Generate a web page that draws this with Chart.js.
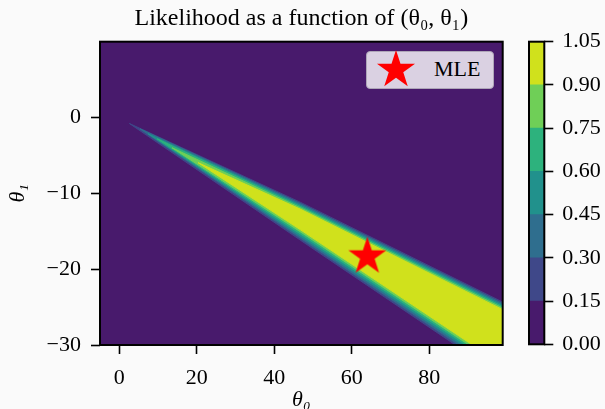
<!DOCTYPE html>
<html>
<head>
<meta charset="utf-8">
<script src="https://cdn.jsdelivr.net/npm/chart.js@4.4.1/dist/chart.umd.min.js"></script>
<style>
  html, body { margin: 0; padding: 0; background: #fafafa; }
  #wrap { position: relative; width: 605px; height: 409px; overflow: hidden; }
  #wrap canvas.chart { position: absolute; left: 0; top: 0; }
  #legend {
    position: absolute; left: 366px; top: 51px; width: 128px; height: 38px;
    box-sizing: border-box; background: #dad1e2; border: 1px solid #aea6b8; border-radius: 4px;
    font-family: 'Liberation Serif', serif; font-size: 22px; color: #000;
  }
  #legend canvas { position: absolute; left: 7px; top: -4px; }
  #legend span { position: absolute; left: 67px; top: 6px; line-height: 22px; }
</style>
</head>
<body>
<div id="wrap">
  <canvas id="main" class="chart" width="605" height="409"></canvas>
  <canvas id="cbar" class="chart" width="605" height="409"></canvas>
  <div id="legend"></div>
</div>
<script>
// axes
const xLimits = [-5, 99];
const yLimits = [-30, 10];
const xTicks = [0, 20, 40, 60, 80];
const yTicks = [-30, -20, -10, 0];

// contour levels (colour bar) and the viridis colour of each band
const levels = [0.00, 0.15, 0.30, 0.45, 0.60, 0.75, 0.90, 1.05];
const bandColors = ['#481a6c', '#3f4889', '#2f6e8e', '#21918c', '#2db27d', '#6fcf57', '#d0e11c'];

// outline of the region likelihood >= level, for levels 0.15 .. 0.90
const tipTheta0 = [2.6, 5.35, 7.4, 9.75, 13.6, 20.35];
const tipTheta1 = [-0.79, -1.49, -2.14, -2.80, -3.99, -5.96];
const midTheta0 = 46.7;
const upperMidTheta1 = [-11.16, -11.34, -11.53, -11.71, -11.89, -12.08];
const upperEndTheta1 = [-24.34, -24.54, -24.74, -24.93, -25.13, -25.34]; // at right edge
const lowerMidTheta1 = [-16.16, -15.88, -15.61, -15.33, -15.05, -14.78];
const lowerEndTheta0 = [86.8, 87.7, 88.6, 89.5, 90.3, 91.2]; // at bottom edge

// maximum likelihood estimate
const mleTheta0 = [64.05];
const mleTheta1 = [-18.33];

const serif = "'Liberation Serif', 'DejaVu Serif', serif";
const minus = v => String(v).replace('-', '\u2212');

function makeStar(r, color) {
  const c = document.createElement('canvas');
  const size = Math.ceil(2 * r + 4);
  c.width = size; c.height = size;
  const g = c.getContext('2d');
  g.fillStyle = color;
  g.beginPath();
  for (let i = 0; i < 10; i++) {
    const rad = i % 2 === 0 ? r : r * 0.381966;
    const a = -Math.PI / 2 + i * Math.PI / 5;
    g.lineTo(size / 2 + rad * Math.cos(a), size / 2 + rad * Math.sin(a));
  }
  g.closePath();
  g.fill();
  return c;
}

const frame = {
  id: 'frame',
  afterDraw(chart) {
    const { ctx, chartArea: a } = chart;
    ctx.save();
    ctx.strokeStyle = '#000';
    ctx.lineWidth = 2;
    ctx.strokeRect(a.left, a.top, a.right - a.left, a.bottom - a.top);
    ctx.restore();
  }
};

// build datasets
const datasets = [];
datasets.push({
  label: 'MLE',
  data: [{ x: mleTheta0[0], y: mleTheta1[0] }],
  pointStyle: makeStar(20, '#ff0000'),
  pointRadius: 20,
  showLine: false,
  order: 0
});
for (let k = 5; k >= 0; k--) {
  const poly = [
    { x: tipTheta0[k], y: tipTheta1[k] },
    { x: midTheta0, y: upperMidTheta1[k] },
    { x: xLimits[1], y: upperEndTheta1[k] },
    { x: xLimits[1], y: yLimits[0] },
    { x: lowerEndTheta0[k], y: yLimits[0] },
    { x: midTheta0, y: lowerMidTheta1[k] },
    { x: tipTheta0[k], y: tipTheta1[k] }
  ];
  datasets.push({
    label: 'L >= ' + levels[k + 1].toFixed(2),
    data: poly,
    showLine: true,
    fill: 'shape',
    backgroundColor: bandColors[k + 1],
    borderColor: bandColors[k + 1],
    borderWidth: 1,
    pointRadius: 0,
    order: 6 - k
  });
}
datasets.push({
  label: 'L >= 0.00',
  data: [
    { x: xLimits[0], y: yLimits[0] }, { x: xLimits[1], y: yLimits[0] },
    { x: xLimits[1], y: yLimits[1] }, { x: xLimits[0], y: yLimits[1] },
    { x: xLimits[0], y: yLimits[0] }
  ],
  showLine: true,
  fill: 'shape',
  backgroundColor: bandColors[0],
  borderColor: bandColors[0],
  borderWidth: 1,
  pointRadius: 0,
  order: 10
});

const tickFont = { family: serif, size: 22 };
const tickGrid = { drawOnChartArea: false, drawTicks: true, tickLength: 9, tickWidth: 1.6, tickColor: '#000' };

new Chart(document.getElementById('main'), {
  type: 'scatter',
  data: { datasets },
  options: {
    responsive: false,
    animation: false,
    devicePixelRatio: 1,
    layout: { padding: { left: 0, right: 102.3, top: 0, bottom: 0 } },
    plugins: {
      legend: { display: false },
      tooltip: { enabled: false },
      title: {
        display: true,
        text: 'Likelihood as a function of (\u03b8\u2080, \u03b8\u2081)',
        fullSize: false,
        color: '#000',
        font: { family: serif, size: 24, weight: 'normal', lineHeight: 1.2 },
        padding: { top: 4.5, bottom: 8.4 }
      }
    },
    scales: {
      x: {
        type: 'linear',
        min: xLimits[0],
        max: xLimits[1],
        afterBuildTicks: s => { s.ticks = xTicks.map(v => ({ value: v })); },
        afterFit: s => { s.height = 64; },
        grid: tickGrid,
        border: { display: false },
        ticks: { color: '#000', font: tickFont, padding: 11, maxRotation: 0, callback: minus },
        title: {
          display: true, text: '\u03b8\u2080', color: '#000',
          font: { family: serif, size: 22, style: 'italic', lineHeight: 0.8 },
          padding: { top: 0, bottom: 0 }
        }
      },
      y: {
        type: 'linear',
        min: yLimits[0],
        max: yLimits[1],
        afterBuildTicks: s => { s.ticks = yTicks.map(v => ({ value: v })); },
        afterFit: s => { s.width = 100; },
        grid: tickGrid,
        border: { display: false },
        ticks: { color: '#000', font: tickFont, padding: 10, callback: minus },
        title: {
          display: true, text: '\u03b8\u2081', color: '#000',
          font: { family: serif, size: 22, style: 'italic', lineHeight: 0.8 },
          padding: { top: 9.6, bottom: 0 }
        }
      }
    }
  },
  plugins: [frame]
});

// colour bar
new Chart(document.getElementById('cbar'), {
  type: 'bar',
  data: {
    labels: [''],
    datasets: bandColors.map((c, i) => ({
      label: levels[i].toFixed(2) + '-' + levels[i + 1].toFixed(2),
      data: [[levels[i], levels[i + 1]]],
      backgroundColor: c,
      borderWidth: 0,
      barPercentage: 1,
      categoryPercentage: 1,
      grouped: false
    }))
  },
  options: {
    responsive: false,
    animation: false,
    devicePixelRatio: 1,
    layout: { padding: { left: 529, top: 41.7, bottom: 64.7, right: 0 } },
    plugins: { legend: { display: false }, tooltip: { enabled: false } },
    scales: {
      x: { display: false },
      y: {
        position: 'right',
        min: levels[0],
        max: levels[levels.length - 1],
        afterBuildTicks: s => { s.ticks = levels.map(v => ({ value: v })); },
        afterFit: s => { s.width = 60.7; },
        grid: tickGrid,
        border: { display: false },
        ticks: { color: '#000', font: tickFont, padding: 9, callback: v => v.toFixed(2) }
      }
    }
  },
  plugins: [frame]
});

// legend inside the plot
const legend = document.getElementById('legend');
legend.appendChild(makeStar(20, '#ff0000'));
const lab = document.createElement('span');
lab.textContent = datasets[0].label;
legend.appendChild(lab);
</script>
</body>
</html>
